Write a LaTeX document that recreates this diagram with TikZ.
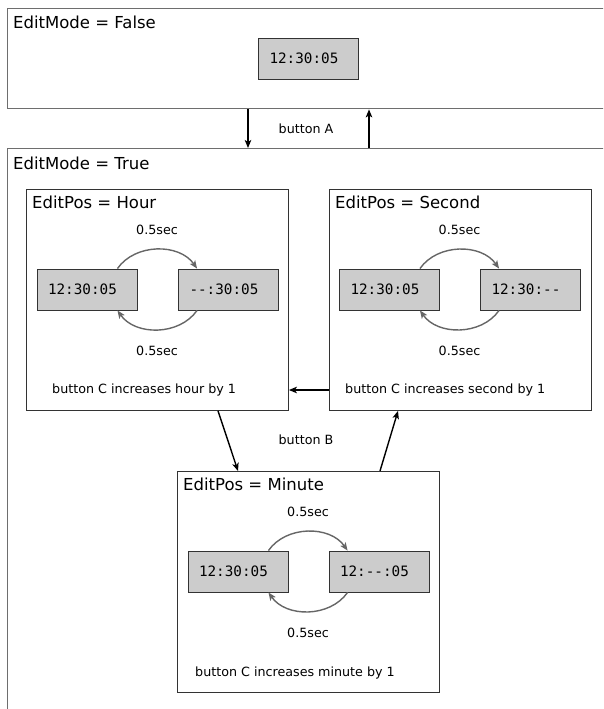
\documentclass[tikz,border=0pt]{standalone}
\usepackage{fontspec}
\setmainfont{DejaVu Sans}
\setmonofont{DejaVu Sans Mono}
\usetikzlibrary{arrows.meta}

\definecolor{framegray}{HTML}{6E6E6E}
\definecolor{boxgray}{HTML}{333333}
\definecolor{dispfill}{HTML}{CCCCCC}
\definecolor{blinkgray}{HTML}{666666}

\tikzset{
  modebox/.style  = {draw=framegray, line width=1.4pt, anchor=north west, inner sep=0pt, minimum width=640pt},
  posbox/.style   = {draw=boxgray, line width=.9pt, anchor=north west, inner sep=0pt, minimum width=262pt, minimum height=221pt},
  boxtitle/.style = {anchor=base west, inner sep=0pt, font=\fontsize{16.5}{19}\selectfont},
  display/.style  = {draw=boxgray, fill=dispfill, line width=.9pt, minimum width=100pt, minimum height=41pt,
                     text width=78pt, inner xsep=11pt, align=left, font=\ttfamily\fontsize{14.3}{16}\selectfont},
  lbl/.style      = {inner sep=0pt, font=\fontsize{12.7}{15}\selectfont},
  blink/.style    = {draw=blinkgray, line width=1.4pt, -{Stealth[length=8pt,width=6.5pt,inset=2pt]}},
  conn/.style     = {draw=black, line width=1.4pt, -{Stealth[length=8pt,width=6.5pt,inset=2pt]}}
}

\begin{document}
\begin{tikzpicture}[x=1pt, y=1pt]
	\clip (0,0) rectangle (603,-709);

	% EditMode = False
	\node (falsebox) at (7,-8) [modebox, minimum height=100pt] {};
	\node (falsetitle) at (13,-29) [boxtitle] {EditMode = False};
	\node (falsedisp) at (308.5,-58.5) [display] {12:30:05};

	% EditMode = True
	\node (truebox) at (7,-148) [modebox, minimum height=600pt] {};
	\node (truetitle) at (13,-169) [boxtitle] {EditMode = True};

	\node (btnA) at (306,-129) [lbl] {button A};
	\coordinate (adown) at (248,0);
	\coordinate (aup) at (369,0);
	\draw [conn] (falsebox.south -| adown) -- (truebox.north -| adown);
	\draw [conn] (truebox.north -| aup) -- (falsebox.south -| aup);

	% EditPos = Hour
	\node (hourbox) at (26,-189) [posbox] {};
	\node (hourtitle) at (32,-208) [boxtitle] {EditPos = Hour};
	\node (hourL) at (87,-289.5) [display] {12:30:05};
	\node (hourR) at (228.5,-289.5) [display] {-{}-:30:05};
	\node (hourtop) at (157,-230) [lbl] {0.5sec};
	\node (hourbot) at (157,-351) [lbl] {0.5sec};
	\node (hourC) at (52,-390) [lbl, anchor=west] {button C increases hour by 1};
	\draw [blink] ([xshift=-20pt]hourL.north east) to [out=55, in=125] ([xshift=19pt]hourR.north west);
	\draw [blink] ([xshift=19pt]hourR.south west) to [out=-125, in=-55] ([xshift=-20pt]hourL.south east);

	% EditPos = Second
	\node (secbox) at (329,-189) [posbox] {};
	\node (sectitle) at (335,-208) [boxtitle] {EditPos = Second};
	\node (secL) at (389.5,-289.5) [display] {12:30:05};
	\node (secR) at (530.5,-289.5) [display] {12:30:-{}-};
	\node (sectop) at (459.5,-230) [lbl] {0.5sec};
	\node (secbot) at (459.5,-351) [lbl] {0.5sec};
	\node (secC) at (345,-390) [lbl, anchor=west] {button C increases second by 1};
	\draw [blink] ([xshift=-20pt]secL.north east) to [out=55, in=125] ([xshift=19pt]secR.north west);
	\draw [blink] ([xshift=19pt]secR.south west) to [out=-125, in=-55] ([xshift=-20pt]secL.south east);

	% EditPos = Minute
	\node (minbox) at (177,-471) [posbox] {};
	\node (mintitle) at (183,-490) [boxtitle] {EditPos = Minute};
	\node (minL) at (238,-571.5) [display] {12:30:05};
	\node (minR) at (379,-571.5) [display] {12:-{}-:05};
	\node (mintop) at (308,-512) [lbl] {0.5sec};
	\node (minbot) at (308,-633) [lbl] {0.5sec};
	\node (minC) at (195,-673) [lbl, anchor=west] {button C increases minute by 1};
	\draw [blink] ([xshift=-20pt]minL.north east) to [out=55, in=125] ([xshift=19pt]minR.north west);
	\draw [blink] ([xshift=19pt]minR.south west) to [out=-125, in=-55] ([xshift=-20pt]minL.south east);

	% button B / button C between the positions
	\node (btnB) at (306,-440) [lbl] {button B};
	\coordinate (bdowntop) at (218,0);
	\coordinate (bdownbot) at (238,0);
	\coordinate (buptop) at (398,0);
	\coordinate (bupbot) at (380,0);
	\draw [conn] (hourbox.south -| bdowntop) -- (minbox.north -| bdownbot);
	\draw [conn] (minbox.north -| bupbot) -- (secbox.south -| buptop);
	\draw [conn] (secbox.west |- hourC.west) -- (hourbox.east |- hourC.west);
\end{tikzpicture}
\end{document}
